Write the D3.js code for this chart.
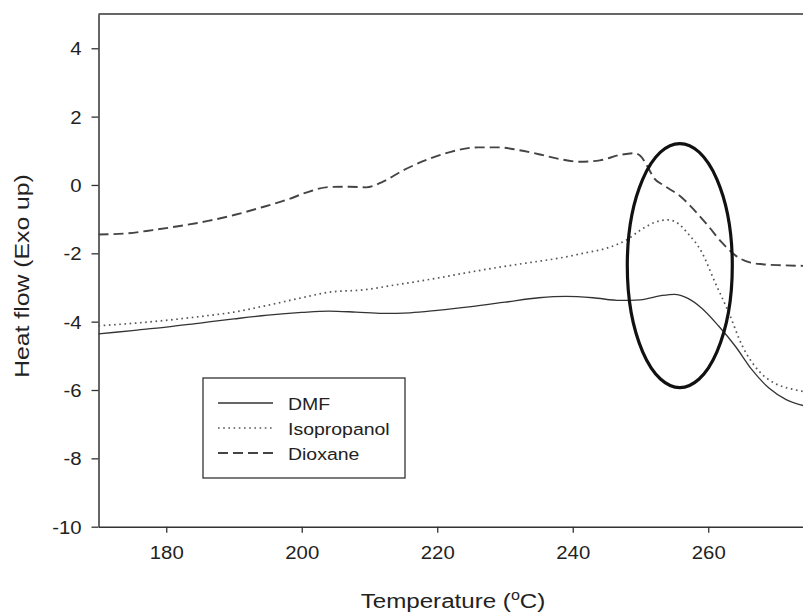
<!DOCTYPE html>
<html><head><meta charset="utf-8">
<script src="https://cdn.jsdelivr.net/npm/d3@7"></script>
<style>body{margin:0;background:#fff;} svg{display:block;}</style>
</head><body><svg id="chart" width="803" height="615"></svg>
<script>
// ---- data ----
const seriesNames = ["DMF", "Isopropanol", "Dioxane"];
const dmf = [[170,-4.36],[175,-4.26],[180,-4.16],[185,-4.04],[190,-3.92],[195,-3.81],[200,-3.73],[204,-3.69],[208,-3.72],[212,-3.76],[216,-3.74],[220,-3.67],[225,-3.56],[230,-3.43],[235,-3.3],[239,-3.26],[243,-3.3],[247,-3.38],[250,-3.36],[253,-3.24],[255,-3.2],[257,-3.32],[259,-3.6],[261.5,-4.12],[264,-4.72],[266.5,-5.42],[269,-5.95],[271.5,-6.28],[275,-6.5]];
const isopropanol = [[170,-4.12],[175,-4.05],[180,-3.96],[185,-3.85],[190,-3.72],[195,-3.52],[200,-3.3],[204,-3.14],[209,-3.07],[214,-2.92],[219,-2.76],[224,-2.58],[229,-2.41],[234,-2.26],[238,-2.14],[242,-1.98],[245,-1.85],[248,-1.6],[250,-1.32],[252,-1.1],[254,-1.02],[255.5,-1.12],[257,-1.42],[259,-1.95],[261,-2.85],[263,-3.72],[265,-4.7],[267.5,-5.45],[270,-5.82],[272.5,-5.98],[275,-6.07]];
const dioxane = [[170,-1.45],[174,-1.42],[178,-1.32],[182,-1.2],[186,-1.06],[190,-0.88],[194,-0.66],[198,-0.42],[201,-0.2],[204,-0.06],[207,-0.05],[209.5,-0.07],[212,0.1],[215,0.43],[218.5,0.74],[222,0.97],[226,1.1],[229,1.1],[232,1.02],[235,0.9],[238,0.76],[241,0.68],[244,0.72],[247,0.88],[249,0.93],[250,0.85],[251,0.55],[252,0.2],[253.5,-0.02],[256,-0.35],[258,-0.75],[260,-1.2],[262,-1.68],[264,-2.06],[266,-2.26],[268,-2.32],[271,-2.35],[275,-2.37]];
const xTicks = [180, 200, 220, 240, 260];
const yTicks = [-10, -8, -6, -4, -2, 0, 2, 4];
const xDomain = [170, 280];
const yDomain = [-10, 5];
const ellipseCenter = [255.8, -2.36];
const ellipseRadii = [7.75, 3.57];
const xTitle = "Temperature (";
const yTitle = "Heat flow (Exo up)";

// ---- drawing ----
const svg = d3.select("#chart");
const x = d3.scaleLinear().domain(xDomain).range([98.5, 843.75]);
const y = d3.scaleLinear().domain(yDomain).range([526.7, 14.1]);
const ink = "#222";
const FONT = "'Liberation Sans', Arial, Helvetica, sans-serif";

// frame: top border and right border
svg.append("line").attr("x1", x(xDomain[0])).attr("x2", x(xDomain[1]))
  .attr("y1", y(yDomain[1])).attr("y2", y(yDomain[1]))
  .attr("stroke", "#333").attr("stroke-width", 1.5);
svg.append("line").attr("x1", x(xDomain[1])).attr("x2", x(xDomain[1]))
  .attr("y1", y(yDomain[1])).attr("y2", y(yDomain[0]))
  .attr("stroke", "#333").attr("stroke-width", 1.5);

// axes
const fmt = d => String(d);
const xAxis = svg.append("g").attr("transform", `translate(0,${y(yDomain[0])})`)
  .call(d3.axisBottom(x).tickValues(xTicks).tickSize(6).tickSizeOuter(0).tickFormat(fmt));
const yAxis = svg.append("g").attr("transform", `translate(${x(xDomain[0])},0)`)
  .call(d3.axisLeft(y).tickValues(yTicks).tickSize(7).tickSizeOuter(0).tickFormat(fmt));
[xAxis, yAxis].forEach(g => {
  g.select(".domain").attr("stroke", "#333").attr("stroke-width", 1.5);
  g.selectAll(".tick line").attr("stroke", "#333").attr("stroke-width", 1.3);
  g.selectAll(".tick text").attr("fill", ink).attr("font-family", FONT).attr("font-size", 18);
});
xAxis.selectAll(".tick text").attr("y", null).attr("dy", null)
  .attr("transform", "translate(0,32) scale(1.13,1)").attr("text-anchor", "middle");
yAxis.selectAll(".tick text").attr("x", null).attr("dy", null)
  .attr("transform", "translate(-17,6.5) scale(1.13,1)").attr("text-anchor", "end");

// curves
const line = d3.line().x(d => x(d[0])).y(d => y(d[1])).curve(d3.curveMonotoneX);
const styles = {
  "DMF": {data: dmf, color: "#333", width: 1.3, dash: null},
  "Isopropanol": {data: isopropanol, color: "#555", width: 1.7, dash: "1.6,3.6"},
  "Dioxane": {data: dioxane, color: "#444", width: 1.9, dash: "10,5"}
};
seriesNames.forEach(n => {
  const s = styles[n];
  svg.append("path").datum(s.data).attr("d", line).attr("fill", "none")
    .attr("stroke", s.color).attr("stroke-width", s.width)
    .attr("stroke-dasharray", s.dash);
});

// annotation ellipse
svg.append("ellipse")
  .attr("cx", x(ellipseCenter[0])).attr("cy", y(ellipseCenter[1]))
  .attr("rx", x(ellipseCenter[0] + ellipseRadii[0]) - x(ellipseCenter[0]))
  .attr("ry", y(ellipseCenter[1]) - y(ellipseCenter[1] + ellipseRadii[1]))
  .attr("fill", "none").attr("stroke", "#111").attr("stroke-width", 3.2);

// legend
const lg = svg.append("g").attr("transform", "translate(203,378)");
lg.append("rect").attr("width", 202).attr("height", 100).attr("fill", "#fff")
  .attr("stroke", "#333").attr("stroke-width", 1.3);
seriesNames.forEach((n, i) => {
  const s = styles[n];
  const yy = 25 + i * 25;
  lg.append("line").attr("x1", 15).attr("x2", 70).attr("y1", yy).attr("y2", yy)
    .attr("stroke", s.color).attr("stroke-width", s.width).attr("stroke-dasharray", s.dash);
  lg.append("text").attr("transform", `translate(85,${yy + 6.5}) scale(1.18,1)`)
    .attr("font-family", FONT).attr("font-size", 16.5).attr("fill", ink).text(n);
});

// axis titles
const xt = svg.append("text").attr("transform", "translate(453,608) scale(1.15,1)")
  .attr("text-anchor", "middle").attr("font-family", FONT).attr("font-size", 21).attr("fill", ink);
xt.append("tspan").text(xTitle);
xt.append("tspan").attr("font-size", 14).attr("dy", -8).text("o");
xt.append("tspan").attr("dy", 8).text("C)");

svg.append("text").attr("transform", "translate(28.5,276) rotate(-90) scale(1.18,1)")
  .attr("text-anchor", "middle").attr("font-family", FONT).attr("font-size", 21).attr("fill", ink)
  .text(yTitle);
</script></body></html>
